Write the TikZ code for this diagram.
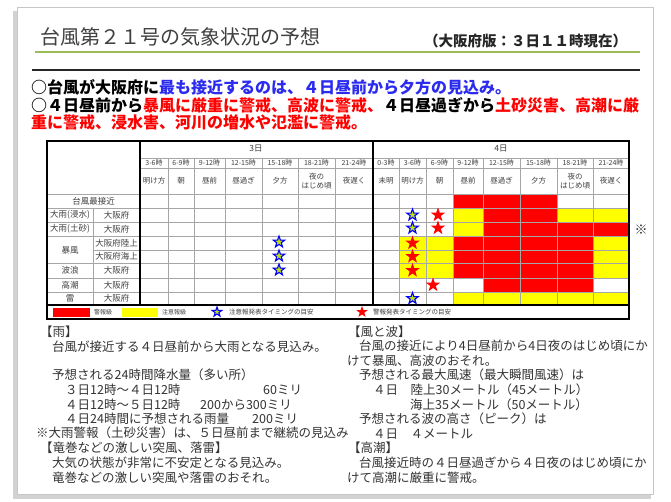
\documentclass[tikz,border=0pt]{standalone}
\usepackage{fontspec}
\setmainfont{Noto Sans CJK JP}
\usetikzlibrary{shapes.geometric}

\definecolor{TitleGreen}{HTML}{9BBB59}
\definecolor{MsgBlue}{HTML}{2B2BF0}
\definecolor{WarnRed}{HTML}{FF0000}
\definecolor{AdvYellow}{HTML}{FFFF00}
\definecolor{BodyGray}{HTML}{333333}

\tikzset{
  redstar/.style={star, star points=5, star point ratio=2.5, fill=WarnRed, inner sep=0pt, minimum size=15pt},
  bluestar/.style={star, star points=5, star point ratio=2.5, draw=blue, line width=1.1pt, fill=yellow!75!green, inner sep=0pt, minimum size=12pt},
  celltext/.style={font=\fontsize{7.5}{8.5}\selectfont, text=black!75, inner sep=0pt, align=center},
  body/.style={font=\fontsize{12.5}{13}\selectfont, text=BodyGray, anchor=west, inner sep=0pt},
  lead/.style={font=\fontsize{16}{17}\selectfont\bfseries, anchor=west, inner sep=0pt},
  gridline/.style={gray!70, line width=0.5pt},
  frameline/.style={black, line width=1.4pt}
}

\def\dayfourx{{373,399,426,453,483,520,557,593,629}}
\def\rowy{{194,208,222,236,250,263,278,292,305}}

\begin{document}
\begin{tikzpicture}[x=1pt,y=-1pt]
    \useasboundingbox (0,0) rectangle (671,501);
    \fill[white] (0,0) rectangle (671,501);

    % card with shadow
    \fill[gray!35] (13,11) rectangle (651,499);
    \fill[white,draw=gray!45] (17,7) rectangle (653,494);

    % heading
    \node[anchor=west,inner sep=0pt,font=\fontsize{20}{22}\selectfont,text=black!75] (title) at (40,37) {台風第２１号の気象状況の予想};
    \node[anchor=west,inner sep=0pt,font=\fontsize{14.5}{15}\selectfont\bfseries,text=black!85] (subtitle) at (424,41) {（大阪府版：３日１１時現在）};
    \draw[TitleGreen,line width=2pt] (35,52) -- (640,52);
    \draw[black!85,line width=2.2pt] (32,70) -- (640,70);

    \node[lead] (leadone) at (31,87) {○台風が大阪府に\textcolor{MsgBlue}{最も接近するのは、４日昼前から夕方の見込み。}};
    \node[lead] (leadtwo) at (31,105) {○４日昼前から\textcolor{WarnRed}{暴風に厳重に警戒、高波に警戒、}４日昼過ぎから\textcolor{WarnRed}{土砂災害、高潮に厳}};
    \node[lead,text=WarnRed] (leadthree) at (31,122) {重に警戒、浸水害、河川の増水や氾濫に警戒。};

    % colour runs of the 4th day: row/first col/last col/colour
    \foreach \r/\ca/\cb/\col in {1/3/5/WarnRed,
                                 2/3/3/AdvYellow, 2/4/5/WarnRed, 2/6/7/AdvYellow,
                                 3/3/3/AdvYellow, 3/4/7/WarnRed,
                                 4/1/2/AdvYellow, 4/3/6/WarnRed, 4/7/7/AdvYellow,
                                 5/1/2/AdvYellow, 5/3/6/WarnRed, 5/7/7/AdvYellow,
                                 6/1/2/AdvYellow, 6/3/6/WarnRed, 6/7/7/AdvYellow,
                                 7/4/6/WarnRed,
                                 8/3/7/AdvYellow}{
        \pgfmathsetmacro\xa{\dayfourx[\ca]}
        \pgfmathsetmacro\xb{\dayfourx[\cb+1]}
        \pgfmathsetmacro\ya{\rowy[\r-1]}
        \pgfmathsetmacro\yb{\rowy[\r]}
        \fill[\col] (\xa,\ya) rectangle (\xb,\yb);
    }

    % grid
    \draw[gridline] (140,158) -- (629,158) (140,168) -- (629,168);
    \foreach \y in {194,208,222,236,263,278,292} \draw[gridline] (47,\y) -- (629,\y);
    \draw[gridline] (93,250) -- (629,250);
    \draw[gridline] (93,208) -- (93,305);
    \foreach \x in {168,194,225,262,298,335,399,426,453,483,520,557,593} \draw[gridline] (\x,158) -- (\x,305);

    \draw[frameline] (47,141) rectangle (629,319);
    \draw[frameline] (140,141) -- (140,305) (373,141) -- (373,305) (47,305) -- (629,305);

    % header
    \node[celltext,font=\fontsize{8.5}{9}\selectfont] (daythree) at (256,149) {3日};
    \node[celltext,font=\fontsize{8.5}{9}\selectfont] (dayfour) at (501,149) {4日};
    \foreach \xa/\xb/\t/\n [count=\i] in {140/168/3-6時/明け方, 168/194/6-9時/朝, 194/225/9-12時/昼前,
                                         225/262/12-15時/昼過ぎ, 262/298/15-18時/夕方,
                                         298/335/18-21時/{夜の\\はじめ頃}, 335/373/21-24時/夜遅く,
                                         373/399/0-3時/未明, 399/426/3-6時/明け方, 426/453/6-9時/朝,
                                         453/483/9-12時/昼前, 483/520/12-15時/昼過ぎ, 520/557/15-18時/夕方,
                                         557/593/18-21時/{夜の\\はじめ頃}, 593/629/21-24時/夜遅く}{
        \node[celltext,font=\fontsize{7}{8}\selectfont] (time\i) at ({(\xa+\xb)/2},163) {\t};
        \node[celltext] (part\i) at ({(\xa+\xb)/2},181) {\n};
    }

    % row labels
    \node[celltext,font=\fontsize{8.5}{9}\selectfont] (rowclose) at (93.5,201) {台風最接近};
    \foreach \t/\y [count=\i] in {大雨(浸水)/215, 大雨(土砂)/229, 暴風/250, 波浪/270.5, 高潮/285, 雷/298.5}
        \node[celltext,font=\fontsize{8.5}{9}\selectfont] (kind\i) at (70,\y) {\t};
    \foreach \t/\y [count=\i] in {大阪府/215, 大阪府/229, 大阪府陸上/243, 大阪府海上/256.5, 大阪府/270.5, 大阪府/285, 大阪府/298.5}
        \node[celltext,font=\fontsize{8.5}{9}\selectfont] (area\i) at (116.5,\y) {\t};

    % timing marks
    \foreach \x/\y [count=\i] in {279/242, 279/256, 279/270, 412.5/215, 412.5/228, 412.5/298.5}
        \node[bluestar] (bs\i) at (\x,\y) {};
    \foreach \x/\y [count=\i] in {412.5/243, 412.5/256.5, 412.5/270.5, 438/215, 438/228, 433/285}
        \node[redstar] (rs\i) at (\x,\y) {};
    \node[font=\fontsize{13}{14}\selectfont,text=black!80,inner sep=0pt] (note) at (641,230) {※};

    % legend
    \fill[WarnRed] (53,308) rectangle (90,316.5);
    \node[celltext,anchor=west,font=\fontsize{6}{7}\selectfont] (legred) at (94,312) {警報級};
    \fill[AdvYellow] (122,308) rectangle (158,316.5);
    \node[celltext,anchor=west,font=\fontsize{6}{7}\selectfont] (legyellow) at (162,312) {注意報級};
    \node[bluestar,minimum size=10pt] (legblue) at (217,312) {};
    \node[celltext,anchor=west,font=\fontsize{6.5}{7}\selectfont] (legbluetext) at (229,312) {注意報発表タイミングの目安};
    \node[redstar,minimum size=12pt] (legredstar) at (362,312) {};
    \node[celltext,anchor=west,font=\fontsize{6.5}{7}\selectfont] (legredtext) at (373,312) {警報発表タイミングの目安};

    % rain
    \node[body] (rainhead) at (40,332) {【雨】};
    \node[body] (rainone) at (52,347) {台風が接近する４日昼前から大雨となる見込み。};
    \node[body] (raintwo) at (52,375) {予想される24時間降水量（多い所）};
    \node[body] (rainthree) at (65,390) {３日12時～４日12時};
    \node[body] (rainthreev) at (263,390) {60ミリ};
    \node[body] (rainfour) at (65,405) {４日12時～５日12時};
    \node[body] (rainfourv) at (200,405) {200から300ミリ};
    \node[body] (rainfive) at (65,419) {４日24時間に予想される雨量};
    \node[body] (rainfivev) at (252,419) {200ミリ};
    \node[body] (rainsix) at (36,433) {※大雨警報（土砂災害）は、５日昼前まで継続の見込み};
    \node[body] (gusthead) at (40,448) {【竜巻などの激しい突風、落雷】};
    \node[body] (gustone) at (52,463) {大気の状態が非常に不安定となる見込み。};
    \node[body] (gusttwo) at (52,478) {竜巻などの激しい突風や落雷のおそれ。};

    % wind and waves
    \node[body] (windhead) at (348,332) {【風と波】};
    \node[body] (windone) at (359,346) {台風の接近により4日昼前から4日夜のはじめ頃にか};
    \node[body] (windtwo) at (347,361) {けて暴風、高波のおそれ。};
    \node[body] (windthree) at (359,375) {予想される最大風速（最大瞬間風速）は};
    \node[body] (windfour) at (373,390) {４日　陸上30メートル（45メートル）};
    \node[body] (windfive) at (410,405) {海上35メートル（50メートル）};
    \node[body] (windsix) at (359,419) {予想される波の高さ（ピーク）は};
    \node[body] (windseven) at (373,434) {４日　４メートル};
    \node[body] (tidehead) at (348,448) {【高潮】};
    \node[body] (tideone) at (359,463) {台風接近時の４日昼過ぎから４日夜のはじめ頃にか};
    \node[body] (tidetwo) at (347,478) {けて高潮に厳重に警戒。};
\end{tikzpicture}
\end{document}
